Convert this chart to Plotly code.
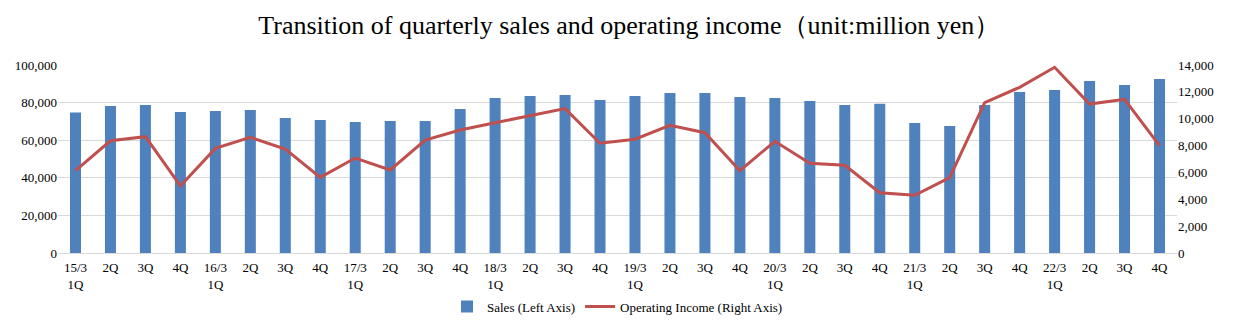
import plotly.graph_objects as go

quarter_labels = [
    "15/3<br>1Q", "2Q", "3Q", "4Q",
    "16/3<br>1Q", "2Q", "3Q", "4Q",
    "17/3<br>1Q", "2Q", "3Q", "4Q",
    "18/3<br>1Q", "2Q", "3Q", "4Q",
    "19/3<br>1Q", "2Q", "3Q", "4Q",
    "20/3<br>1Q", "2Q", "3Q", "4Q",
    "21/3<br>1Q", "2Q", "3Q", "4Q",
    "22/3<br>1Q", "2Q", "3Q", "4Q",
]

sales = [
    74700, 78200, 78700, 75000,
    75500, 76100, 71800, 70700,
    69700, 70200, 70200, 76600,
    82400, 83500, 84000, 81400,
    83500, 85100, 85100, 83000,
    82400, 80800, 78700, 79400,
    69100, 67500, 78700, 85600,
    86700, 91500, 89400, 92600,
]

operating_income = [
    6130, 8360, 8660, 4990,
    7790, 8610, 7740, 5630,
    7070, 6180, 8410, 9160,
    9700, 10200, 10750, 8170,
    8470, 9510, 8960, 6130,
    8320, 6680, 6530, 4490,
    4300, 5610, 11190, 12340,
    13830, 11090, 11440, 7990,
]

left_ticks = [0, 20000, 40000, 60000, 80000, 100000]
right_ticks = [0, 2000, 4000, 6000, 8000, 10000, 12000, 14000]

font_family = "Liberation Serif, Times New Roman, serif"
positions = list(range(len(quarter_labels)))

fig = go.Figure()
fig.add_trace(go.Bar(
    x=positions, y=sales, name="Sales (Left Axis)",
    marker=dict(color="#4F81BD", line=dict(width=0)),
    width=0.315, yaxis="y",
))
fig.add_trace(go.Scatter(
    x=positions, y=operating_income, name="Operating Income (Right Axis)",
    mode="lines", line=dict(color="#C0504D", width=3),
    yaxis="y2",
))

fig.update_layout(
    width=1234, height=328,
    margin=dict(l=58, r=57, t=65, b=75, autoexpand=False),
    paper_bgcolor="white", plot_bgcolor="white",
    font=dict(family=font_family, size=13, color="#000000"),
    title=dict(
        text="Transition of quarterly sales and operating income\uff08unit:million yen\uff09",
        x=0.51, xanchor="center", y=0.925, yanchor="middle",
        font=dict(family=font_family, size=26, color="#000000"),
    ),
    showlegend=True,
    legend=dict(
        orientation="h", x=0.5, xanchor="center", y=-0.205, yanchor="top",
        font=dict(family=font_family, size=13),
        itemwidth=30, traceorder="normal",
    ),
    xaxis=dict(
        range=[-0.5, len(quarter_labels) - 0.5],
        tickvals=positions, ticktext=quarter_labels,
        showgrid=False, showline=False, ticks="", zeroline=False,
        tickfont=dict(family=font_family, size=13),
        tickangle=0, ticklabelstandoff=5, automargin=False,
    ),
    yaxis=dict(
        range=[0, 100000], tickvals=left_ticks,
        tickformat=",d", showgrid=True, gridcolor="#D9D9D9", gridwidth=1,
        zeroline=True, zerolinecolor="#D9D9D9", zerolinewidth=1,
        showline=False, ticks="", tickfont=dict(family=font_family, size=13),
        automargin=False,
    ),
    yaxis2=dict(
        range=[0, 14000], tickvals=right_ticks, tickformat=",d",
        overlaying="y", side="right", showgrid=False, zeroline=False,
        showline=False, ticks="", tickfont=dict(family=font_family, size=13),
        automargin=False,
    ),
)

fig.write_html("out.html")
